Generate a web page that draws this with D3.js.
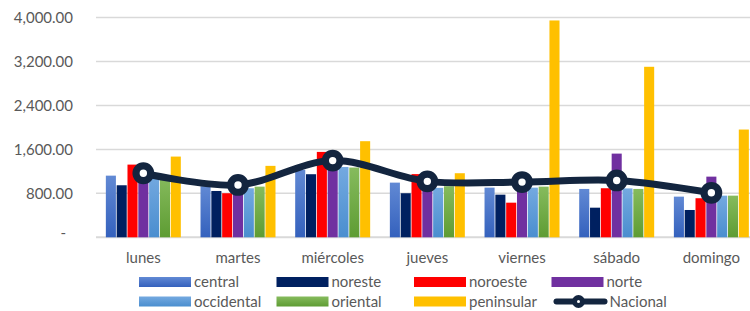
<!DOCTYPE html>
<html>
<head>
<meta charset="utf-8">
<script src="https://cdn.jsdelivr.net/npm/d3@7"></script>
<style>
  body { margin: 0; background: #fff; }
  svg { display: block; font-family: Lato, "Open Sans", sans-serif; }
</style>
</head>
<body>
<svg id="chart" width="750" height="311"></svg>
<script>
// dias de la semana
var days = ["lunes", "martes", "miércoles", "jueves", "viernes", "sábado", "domingo"];

// valores por región
var central    = [1122,  930, 1230,  995,  904,  880,  740];
var noreste    = [ 947,  843, 1148,  802,  776,  539,  497];
var noroeste   = [1323,  802, 1554, 1150,  630,  893,  711];
var norte      = [1300,  880, 1450,  960,  880, 1523, 1104];
var occidental = [1150,  893, 1280,  900,  904,  890,  758];
var oriental   = [1120,  922, 1270,  930,  922,  880,  758];
var peninsular = [1469, 1300, 1749, 1166, 3946, 3103, 1961];
var nacional   = [1166,  953, 1396, 1018, 1005, 1035,  810];

var yTicks = [0, 800, 1600, 2400, 3200, 4000];

var series = [
    { name: "central",    values: central,    fill: "url(#gCentral)" },
    { name: "noreste",    values: noreste,    fill: "#002060" },
    { name: "noroeste",   values: noroeste,   fill: "#ff0000" },
    { name: "norte",      values: norte,      fill: "#7030a0" },
    { name: "occidental", values: occidental, fill: "url(#gOccidental)" },
    { name: "oriental",   values: oriental,   fill: "url(#gOriental)" },
    { name: "peninsular", values: peninsular, fill: "#ffc000" }
];

var svg = d3.select("#chart");
var plotLeft = 96, plotRight = 758.7, plotTop = 17.5, plotBottom = 237.3;
var lineColor = "#13253f";

// gradientes tipo Excel
var defs = svg.append("defs");
function addGradient(id, c1, c2) {
    var g = defs.append("linearGradient").attr("id", id)
        .attr("x1", 0).attr("y1", 0).attr("x2", 0).attr("y2", 1);
    g.append("stop").attr("offset", "0%").attr("stop-color", c1);
    g.append("stop").attr("offset", "100%").attr("stop-color", c2);
}
addGradient("gCentral", "#6189d4", "#3461bd");
addGradient("gOccidental", "#74a9e0", "#4a8ecf");
addGradient("gOriental", "#86bb5d", "#5e9c33");

var x0 = d3.scaleBand().domain(days).range([plotLeft, plotRight])
    .paddingInner(0.208).paddingOuter(0.104);
var x1 = d3.scaleBand().domain(series.map(function (s) { return s.name; }))
    .range([0, x0.bandwidth()]).paddingInner(0.07);
var y = d3.scaleLinear().domain([0, 4000]).range([plotBottom, plotTop]);

// rejilla
svg.append("g").selectAll("line")
    .data(yTicks)
    .enter().append("line")
    .attr("x1", plotLeft).attr("x2", 750)
    .attr("y1", function (d) { return y(d); })
    .attr("y2", function (d) { return y(d); })
    .attr("stroke", "#d9d9d9")
    .attr("stroke-width", function (d) { return d === 0 ? 2 : 1.5; });

// etiquetas eje Y
var fmt = d3.format(",.2f");
svg.append("g").selectAll("text")
    .data(yTicks)
    .enter().append("text")
    .attr("x", function (d) { return d === 0 ? 66 : 73; })
    .attr("y", function (d) { return y(d); })
    .attr("dy", function (d) { return d === 0 ? "0.05em" : "0.35em"; })
    .attr("text-anchor", "end")
    .attr("fill", "#595959")
    .style("font-size", "15px")
    .text(function (d) { return d === 0 ? "-" : fmt(d); });

// barras
var groups = svg.append("g").selectAll("g")
    .data(days)
    .enter().append("g")
    .attr("transform", function (d) { return "translate(" + x0(d) + ",0)"; });

groups.selectAll("rect")
    .data(function (d, i) {
        return series.map(function (s) { return { s: s, v: s.values[i] }; });
    })
    .enter().append("rect")
    .attr("x", function (d) { return x1(d.s.name); })
    .attr("y", function (d) { return y(d.v); })
    .attr("width", x1.bandwidth())
    .attr("height", function (d) { return y(0) - y(d.v); })
    .attr("fill", function (d) { return d.s.fill; });

// etiquetas eje X
svg.append("g").selectAll("text")
    .data(days)
    .enter().append("text")
    .attr("x", function (d) { return x0(d) + x0.bandwidth() / 2; })
    .attr("y", 258)
    .attr("dy", "0.35em")
    .attr("text-anchor", "middle")
    .attr("fill", "#595959")
    .style("font-size", "15px")
    .text(function (d) { return d; });

// línea Nacional suavizada
var cx = function (d, i) { return x0(days[i]) + x0.bandwidth() / 2; };
var line = d3.line()
    .x(cx)
    .y(function (d) { return y(d); })
    .curve(d3.curveCatmullRom.alpha(0.5));

svg.append("path")
    .datum(nacional)
    .attr("d", line)
    .attr("fill", "none")
    .attr("stroke", lineColor)
    .attr("stroke-width", 7)
    .attr("stroke-linejoin", "round");

svg.append("g").selectAll("circle")
    .data(nacional)
    .enter().append("circle")
    .attr("cx", cx)
    .attr("cy", function (d) { return y(d); })
    .attr("r", 7.3)
    .attr("fill", "#fff")
    .attr("stroke", lineColor)
    .attr("stroke-width", 7.2);

// leyenda
var legendItems = series.map(function (s) { return { name: s.name, fill: s.fill, line: false }; });
legendItems.push({ name: "Nacional", line: true });

var legend = svg.append("g").selectAll("g")
    .data(legendItems)
    .enter().append("g")
    .attr("transform", function (d, i) {
        return "translate(" + (139 + (i % 4) * 137.5) + "," + (282 + Math.floor(i / 4) * 19.5) + ")";
    });

legend.filter(function (d) { return !d.line; })
    .append("rect")
    .attr("x", 0).attr("y", -5)
    .attr("width", 52).attr("height", 10)
    .attr("fill", function (d) { return d.fill; });

var nacLegend = legend.filter(function (d) { return d.line; });
nacLegend.append("line")
    .attr("x1", 5).attr("x2", 53).attr("y1", 0).attr("y2", 0)
    .attr("stroke", lineColor).attr("stroke-width", 6)
    .attr("stroke-linecap", "round");
nacLegend.append("circle")
    .attr("cx", 27).attr("cy", 0).attr("r", 4)
    .attr("fill", "#fff").attr("stroke", lineColor).attr("stroke-width", 5);

legend.append("text")
    .attr("x", function (d) { return d.line ? 58 : 55; })
    .attr("y", 0)
    .attr("dy", "0.35em")
    .attr("fill", "#595959")
    .style("font-size", "15px")
    .text(function (d) { return d.name; });
</script>
</body>
</html>
